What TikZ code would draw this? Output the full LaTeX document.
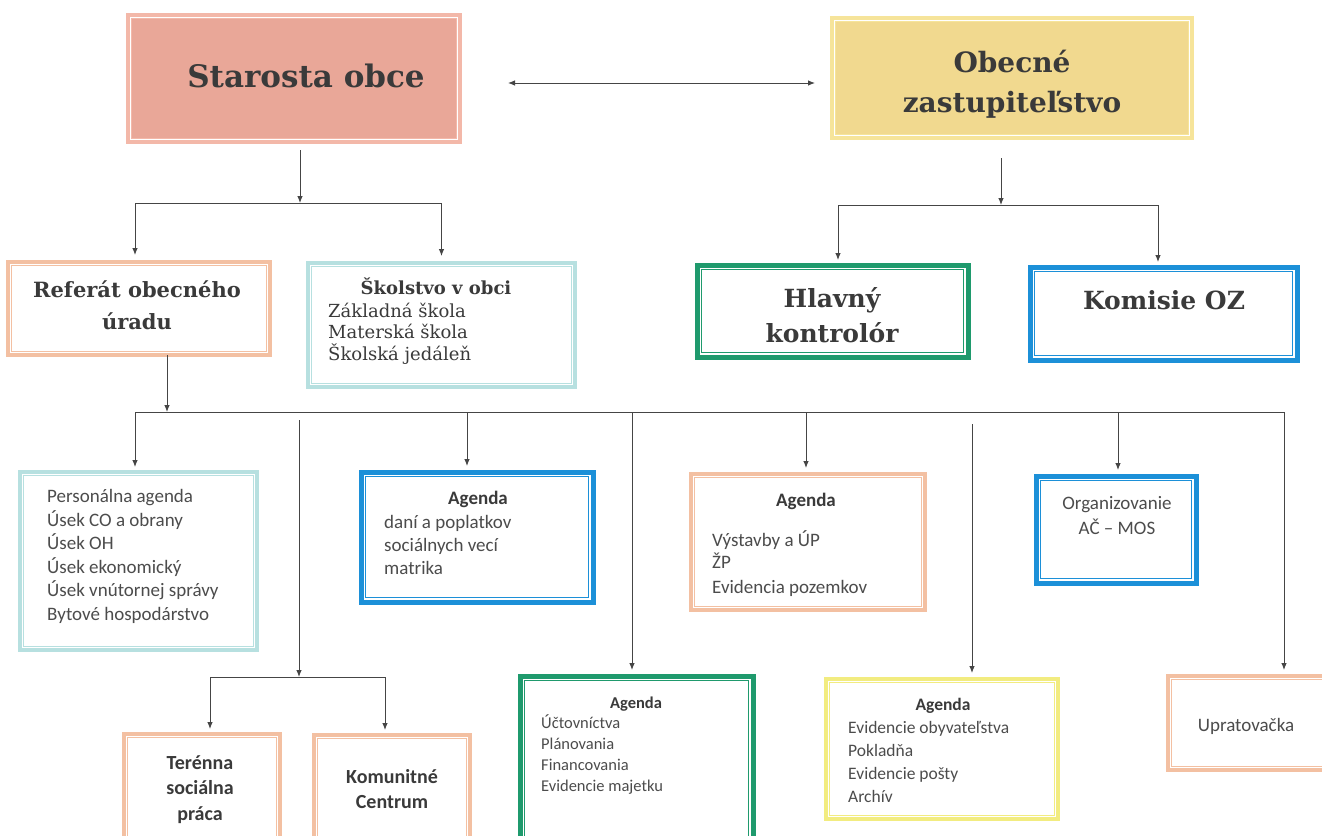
\documentclass[tikz,border=0pt]{standalone}
\usepackage{fontspec}
\setmainfont{DejaVu Serif}
\newfontfamily\sansf{Carlito}
\usetikzlibrary{arrows.meta}
\definecolor{starfill}{HTML}{E9A798}
\definecolor{starline}{HTML}{F3B8A9}
\definecolor{obecfill}{HTML}{F1D98F}
\definecolor{obecline}{HTML}{F6E49A}
\definecolor{peach}{HTML}{F3C0A2}
\definecolor{teal}{HTML}{B7E0E0}
\definecolor{grn}{HTML}{1F9A6D}
\definecolor{blu}{HTML}{1C90D8}
\definecolor{yel}{HTML}{F2EC80}
\definecolor{linec}{HTML}{454545}
\definecolor{txt}{HTML}{3A3A3A}
\definecolor{stxt}{HTML}{4C4C4C}
\begin{document}
\begin{tikzpicture}[x=1pt,y=-1pt,
  frame/.style 2 args={draw=#1, line width=#2pt, inner sep=0pt, outer sep=0pt,
    path picture={
      \draw[white, line width=1.2pt]
        ([xshift={#2/2+0.6},yshift={-(#2/2+0.6)}]path picture bounding box.north west) rectangle
        ([xshift={-(#2/2+0.6)},yshift={#2/2+0.6}]path picture bounding box.south east);
      \draw[#1, line width=1pt]
        ([xshift={#2/2+1.7},yshift={-(#2/2+1.7)}]path picture bounding box.north west) rectangle
        ([xshift={-(#2/2+1.7)},yshift={#2/2+1.7}]path picture bounding box.south east);
    }},
  arr/.style={draw=linec, line width=0.9pt, -{Latex[length=7pt,width=5.5pt]}},
  arrtwo/.style={draw=linec, line width=0.9pt, {Latex[length=7pt,width=5.5pt]}-{Latex[length=7pt,width=5.5pt]}},
  ln/.style={draw=linec, line width=0.9pt},
  hd/.style={font=\fontsize{#1}{#1}\selectfont\bfseries, text=txt, inner sep=0pt},
  sr/.style={font=\fontsize{#1}{#1}\selectfont, text=txt, inner sep=0pt},
  ss/.style={font=\sansf\fontsize{#1}{#1}\selectfont, text=stxt, inner sep=0pt},
  ssb/.style={font=\sansf\fontsize{#1}{#1}\selectfont\bfseries, text=txt, inner sep=0pt},
]
\useasboundingbox (0,0) rectangle (1322,835);
\clip (0,0) rectangle (1322,835);
\fill[white] (0,0) rectangle (1322,835);

% ---------- boxes ----------
\node[frame={starline}{4}, fill=starfill, minimum width=332pt, minimum height=127pt] (star) at (294,78.5) {};
\node[frame={obecline}{4}, fill=obecfill, minimum width=360pt, minimum height=120pt] (obec) at (1012,78) {};
\node[frame={peach}{3.5}, fill=white, minimum width=262pt, minimum height=93pt] (ref) at (139,308.5) {};
\node[frame={teal}{3.5}, fill=white, minimum width=267pt, minimum height=124pt] (skol) at (441.5,325) {};
\node[frame={grn}{5}, fill=white, minimum width=271pt, minimum height=92pt] (hlav) at (832.5,311) {};
\node[frame={blu}{5}, fill=white, minimum width=267pt, minimum height=93pt] (kom) at (1163.5,313.5) {};
\node[frame={teal}{3.5}, fill=white, minimum width=237pt, minimum height=178pt] (pers) at (138.5,561) {};
\node[frame={blu}{5}, fill=white, minimum width=232pt, minimum height=130pt] (agB) at (477,537) {};
\node[frame={peach}{3.5}, fill=white, minimum width=234pt, minimum height=136pt] (agP) at (808,542) {};
\node[frame={blu}{5}, fill=white, minimum width=160pt, minimum height=107pt] (org) at (1116,529.5) {};
\node[frame={peach}{3.5}, fill=white, minimum width=156pt, minimum height=116pt] (ter) at (202,792) {};
\node[frame={peach}{3.5}, fill=white, minimum width=156pt, minimum height=115pt] (komc) at (392,792.5) {};
\node[frame={grn}{5}, fill=white, minimum width=233pt, minimum height=174pt] (agG) at (636.5,763) {};
\node[frame={yel}{3.5}, fill=white, minimum width=232pt, minimum height=140pt] (agY) at (942,749) {};
\node[frame={peach}{3.5}, fill=white, minimum width=182pt, minimum height=94pt] (upr) at (1259,723) {};

% ---------- texts ----------
\node[hd=31, anchor=base] (tstar) at (306,87) {Starosta obce};
\node[hd=28, anchor=base] (tobec1) at (1012,72) {Obecné};
\node[hd=28, anchor=base] (tobec2) at (1012,112) {zastupiteľstvo};
\node[hd=21, anchor=base] (tref1) at (137,297) {Referát obecného};
\node[hd=21, anchor=base] (tref2) at (137,329) {úradu};
\node[hd=25, anchor=base] (thlav1) at (832,307) {Hlavný};
\node[hd=25, anchor=base] (thlav2) at (832,342) {kontrolór};
\node[hd=25, anchor=base] (tkom) at (1164,309) {Komisie OZ};
\node[hd=18, anchor=base] (tskol) at (436,294) {Školstvo v obci};
\foreach \t [count=\i] in {Základná škola, Materská škola, Školská jedáleň}
  \node[sr=18, anchor=base west] (tskol\i) at (328,{317+21.5*(\i-1)}) {\t};

\foreach \t [count=\i] in {Personálna agenda, Úsek CO a obrany, Úsek OH, Úsek ekonomický, Úsek vnútornej správy, Bytové hospodárstvo}
  \node[ss=19, anchor=base west] (tpers\i) at (47,{502.5+23.6*(\i-1)}) {\t};

\node[ssb=19, anchor=base] (tagB) at (478,504.5) {Agenda};
\foreach \t [count=\i] in {daní a poplatkov, sociálnych vecí, matrika}
  \node[ss=19, anchor=base west] (tagB\i) at (384,{528.5+23*(\i-1)}) {\t};

\node[ssb=19, anchor=base] (tagP) at (806,506.5) {Agenda};
\node[ss=19, anchor=base west] (tagP1) at (712,546.5) {Výstavby a ÚP};
\node[ss=19, anchor=base west] (tagP2) at (712,568.5) {ŽP};
\node[ss=19, anchor=base west] (tagP3) at (712,593.5) {Evidencia pozemkov};

\node[ss=19, anchor=base] (torg1) at (1117,509.5) {Organizovanie};
\node[ss=19, anchor=base] (torg2) at (1117,534.5) {AČ – MOS};

\node[ssb=20, anchor=base] (tter1) at (200,769) {Terénna};
\node[ssb=20, anchor=base] (tter2) at (200,794) {sociálna};
\node[ssb=20, anchor=base] (tter3) at (200,820) {práca};
\node[ssb=20, anchor=base] (tkomc1) at (392,783) {Komunitné};
\node[ssb=20, anchor=base] (tkomc2) at (392,808) {Centrum};

\node[ssb=16.5, anchor=base] (tagG) at (636,708) {Agenda};
\foreach \t [count=\i] in {Účtovníctva, Plánovania, Financovania, Evidencie majetku}
  \node[ss=16.5, anchor=base west] (tagG\i) at (541,{728+21.3*(\i-1)}) {\t};

\node[ssb=17.5, anchor=base] (tagY) at (943,710) {Agenda};
\foreach \t [count=\i] in {Evidencie obyvateľstva, Pokladňa, Evidencie pošty, Archív}
  \node[ss=17.5, anchor=base west] (tagY\i) at (848,{733+23.3*(\i-1)}) {\t};

\node[ss=19, anchor=base] (tupr) at (1246,731.5) {Upratovačka};

% ---------- connectors ----------
\draw[arrtwo] ([xshift=48pt,yshift=-4.5pt]star.east) -- ([xshift=-17pt,yshift=-4.5pt]star.east -| obec.west);

\coordinate (j1) at (300,203);
\draw[arr] ([yshift=-8pt]j1 |- star.south) -- (j1);
\draw[arr] (j1) -| ([xshift=-4pt,yshift=7pt]ref.north);
\draw[arr] (j1) -| ([yshift=7pt]skol.north);

\coordinate (j2) at (1001,205);
\draw[arr] ([yshift=-20pt]j2 |- obec.south) -- (j2);
\draw[arr] (j2) -| ([xshift=5.5pt,yshift=5pt]hlav.north);
\draw[arr] (j2) -| ([xshift=-5.5pt,yshift=5pt]kom.north);

\coordinate (b0) at (167,412);
\coordinate (bL) at (135,412);
\coordinate (bR) at (1284,412);
\draw[arr] (b0 |- ref.south) -- (b0);
\draw[ln] (bL) -- (bR);
\draw[arr] (bL) -- ([yshift=5pt]bL |- pers.north);

\coordinate (s3) at (299,420);
\coordinate (j3) at (299,677);
\draw[arr] (s3) -- (j3);
\draw[arr] (j3) -| ([xshift=8pt,yshift=5pt]ter.north);
\draw[arr] (j3) -| ([xshift=-7pt,yshift=5pt]komc.north);

\draw[arr] ([xshift=-10pt]agB.north |- bL) -- ([xshift=-10pt,yshift=6pt]agB.north);
\draw[arr] ([xshift=-4.5pt]agG.north |- bL) -- ([xshift=-4.5pt,yshift=6pt]agG.north);
\draw[arr] ([xshift=-2pt]agP.north |- bL) -- ([xshift=-2pt,yshift=6pt]agP.north);
\coordinate (s4) at (972,424);
\draw[arr] (s4) -- ([yshift=6pt]s4 |- agY.north);
\draw[arr] ([xshift=2pt]org.north |- bL) -- ([xshift=2pt,yshift=6pt]org.north);
\draw[arr] (bR) -- ([yshift=6pt]bR |- upr.north);
\end{tikzpicture}
\end{document}
